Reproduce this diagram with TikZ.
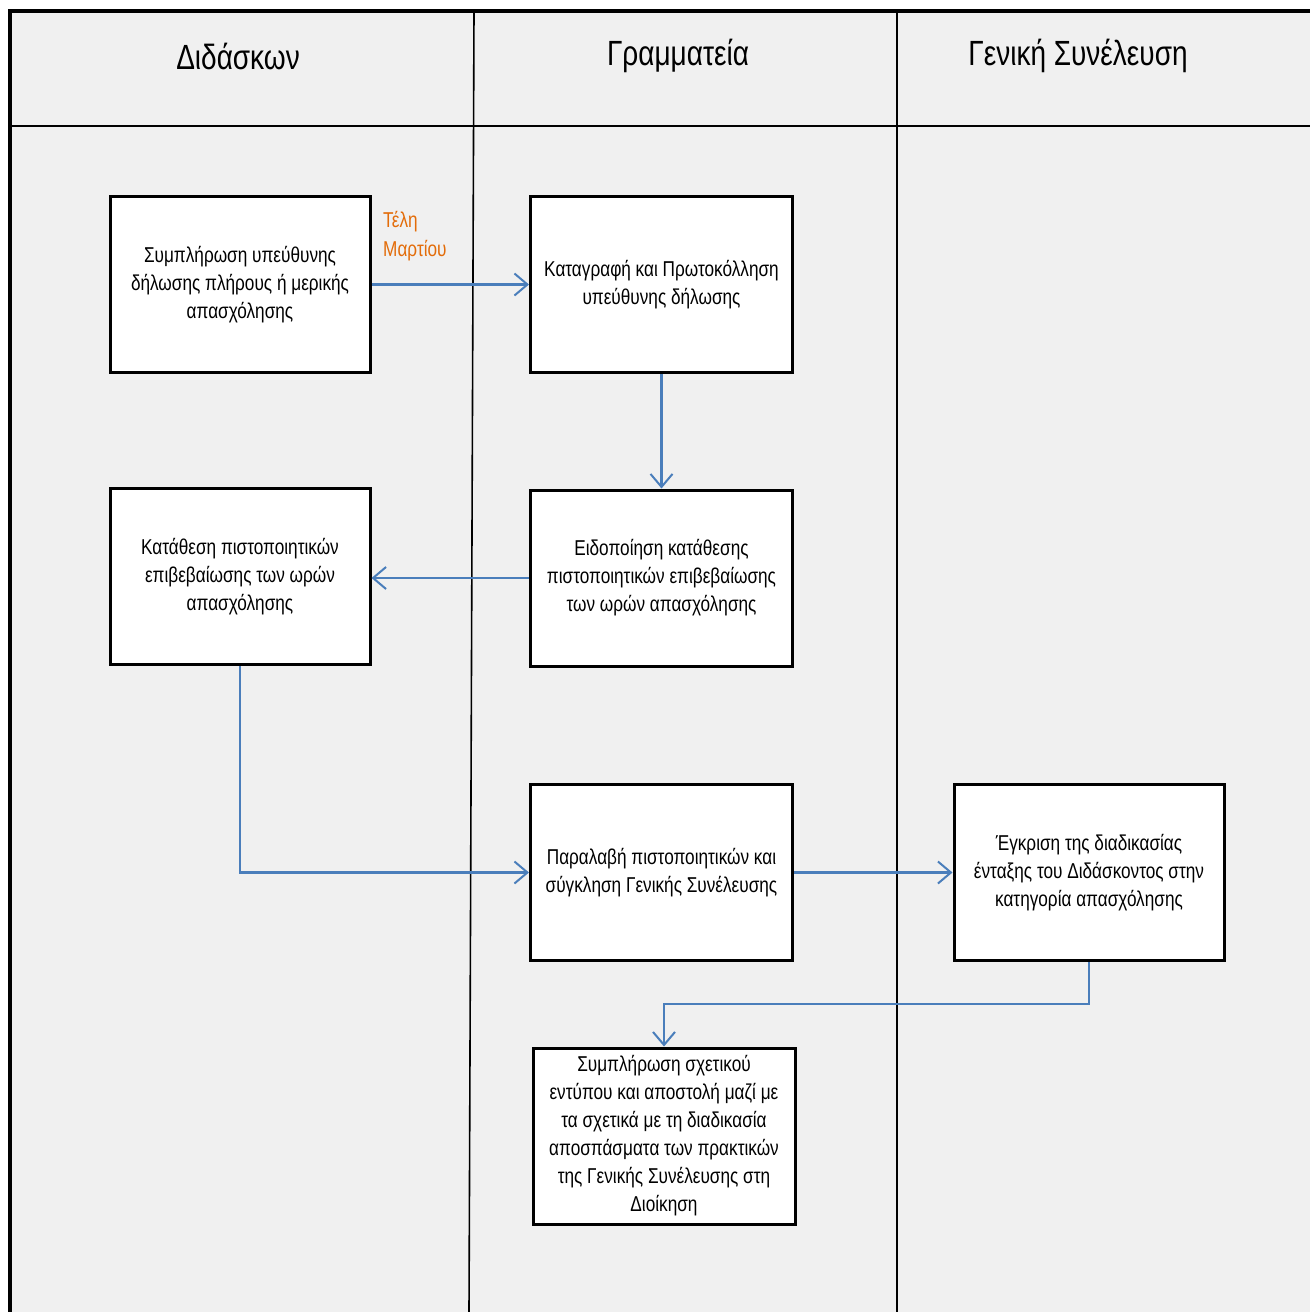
\documentclass[tikz,border=0pt]{standalone}
\usepackage{fontspec}
\setmainfont{Liberation Sans}[FakeStretch=0.8]
\usetikzlibrary{arrows.meta}
\definecolor{lanebg}{HTML}{F0F0F0}
\definecolor{flowblue}{HTML}{4A7EBB}
\definecolor{noteorange}{HTML}{E36C09}
\begin{document}
\begin{tikzpicture}[x=1pt,y=-1pt,
  stepbox/.style={draw=black,line width=3pt,fill=white,minimum width=#1,
    minimum height=176pt,align=center,inner sep=4pt,
    font=\fontsize{21.5}{28}\selectfont},
  stepbox/.default=260pt,
  flow/.style={draw=flowblue,line width=2.2pt,
    -{Straight Barb[length=13pt,width=22pt,line width=2pt]}},
  lanehead/.style={font=\fontsize{35}{40}\selectfont}]
  \useasboundingbox (0,0) rectangle (1310,1312);
  % lane area
  \fill[lanebg] (10,11) rectangle (1310,1312);
  \draw[line width=4pt] (8,11) -- (1310,11);
  \draw[line width=4pt] (10,9) -- (10,1312);
  \draw[line width=2.5pt] (10,126) -- (1310,126);
  \draw[line width=1.6pt] (474,11) -- (469,1312);
  \draw[line width=1.6pt] (897,11) -- (897,1312);
  % lane titles
  \node[lanehead] (h1) at (238,56) {Διδάσκων};
  \node[lanehead] (h2) at (678,56) {Γραμματεία};
  \node[lanehead] (h3) at (1078,56) {Γενική Συνέλευση};
  % steps
  \node[stepbox] (a) at (240,284.5) {Συμπλήρωση υπεύθυνης\\δήλωσης πλήρους ή μερικής\\απασχόλησης};
  \node[stepbox=262pt] (b) at (661.5,284.5) {Καταγραφή και Πρωτοκόλληση\\υπεύθυνης δήλωσης};
  \node[stepbox] (c) at (240,576.5) {Κατάθεση πιστοποιητικών\\επιβεβαίωσης των ωρών\\απασχόλησης};
  \node[stepbox=262pt] (d) at (661.5,578) {Ειδοποίηση κατάθεσης\\πιστοποιητικών επιβεβαίωσης\\των ωρών απασχόλησης};
  \node[stepbox=262pt] (e) at (661.5,872.5) {Παραλαβή πιστοποιητικών και\\σύγκληση Γενικής Συνέλευσης};
  \node[stepbox=270pt] (f) at (1089,872.5) {Έγκριση της διαδικασίας\\ένταξης του Διδάσκοντος στην\\κατηγορία απασχόλησης};
  \node[stepbox=262pt] (g) at (664,1136) {Συμπλήρωση σχετικού\\εντύπου και αποστολή μαζί με\\τα σχετικά με τη διαδικασία\\αποσπάσματα των πρακτικών\\της Γενικής Συνέλευσης στη\\Διοίκηση};
  % note on the first connector
  \node[text=noteorange,align=left,anchor=north west,inner sep=0pt,
    font=\fontsize{21.5}{29}\selectfont] (note) at (383,211) {Τέλη\\Μαρτίου};
  % connectors
  \draw[flow] (a.east) -- (b.west);
  \draw[flow] (b.south) -- (d.north);
  \draw[flow] (d.west) -- (d.west -| c.east);
  \draw[flow] (c.south) |- (e.west);
  \draw[flow] (e.east) -- (f.west);
  \coordinate (turn) at (1089,1004);
  \draw[flow] (f.south) -- (turn) -| (g.north);
\end{tikzpicture}
\end{document}
